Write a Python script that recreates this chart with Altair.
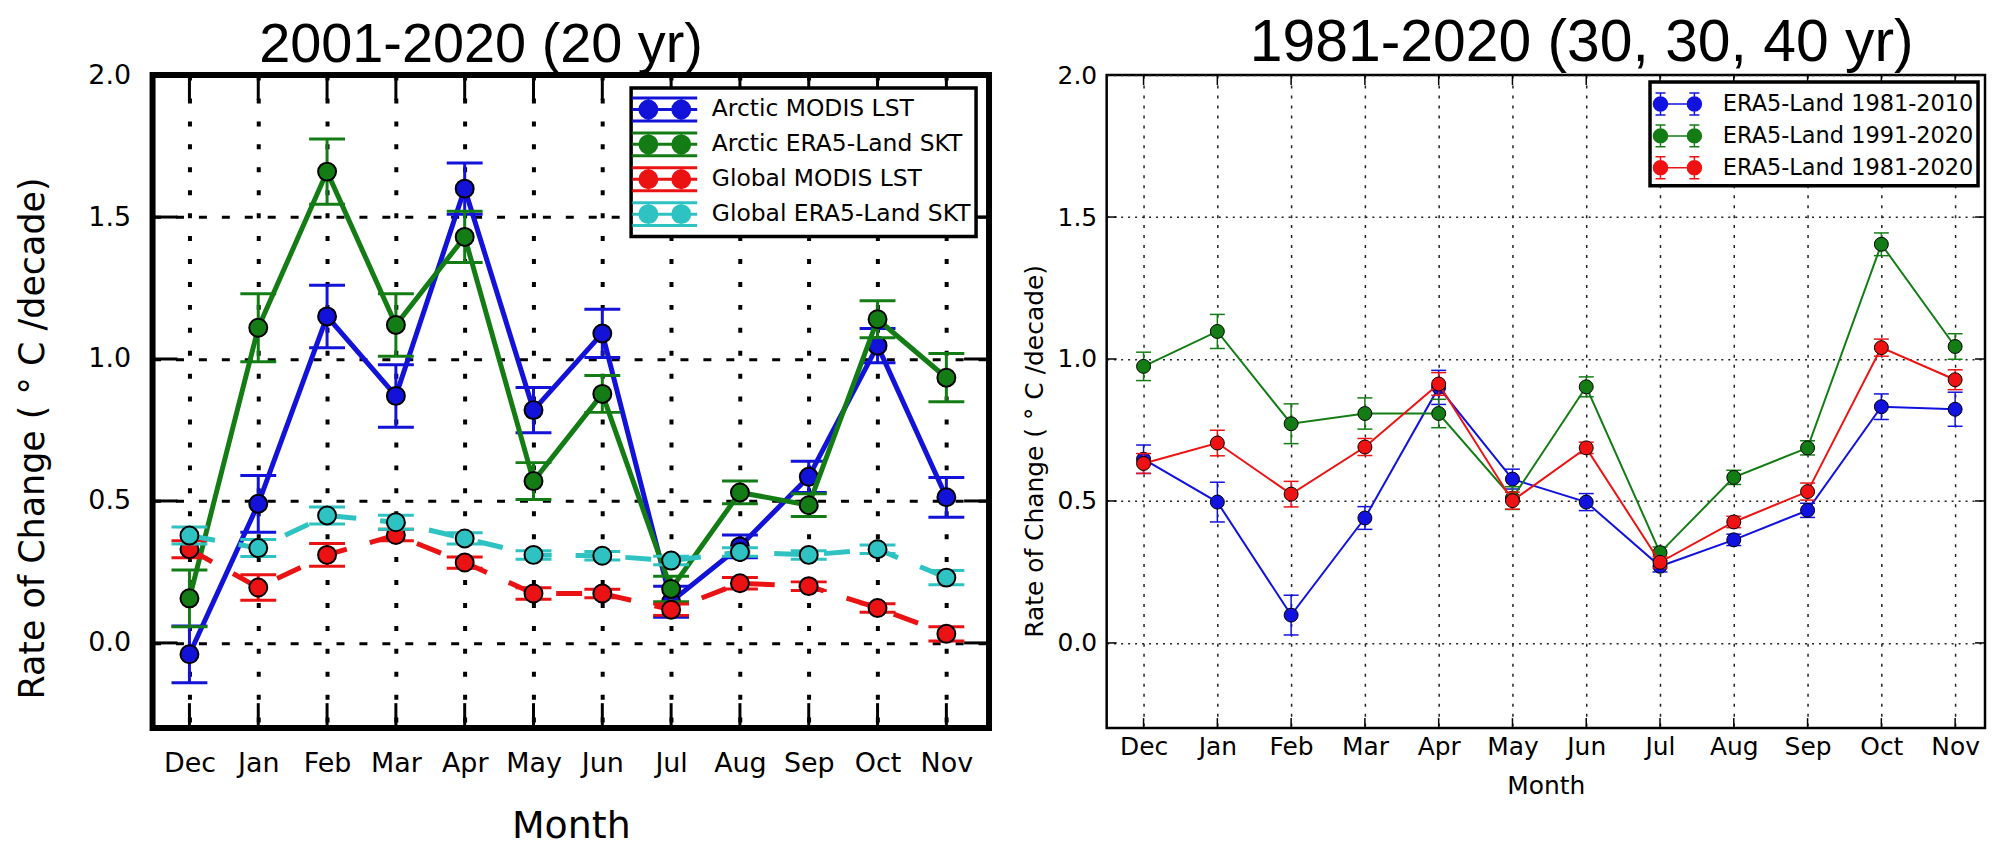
import altair as alt
import pandas as pd

MONTHS = ["Dec", "Jan", "Feb", "Mar", "Apr", "May", "Jun", "Jul", "Aug", "Sep", "Oct", "Nov"]
Y_LABEL_VALUES = [0.0, 0.5, 1.0, 1.5, 2.0]
Y_INNER_TICKS = [0.0, 0.5, 1.0, 1.5]
Y_TITLE = "Rate of Change ( \u00b0 C /decade)"

# ---- left panel: 2001-2020 ----
L_NAMES = ["Arctic MODIS LST", "Arctic ERA5-Land SKT", "Global MODIS LST", "Global ERA5-Land SKT"]
L_COLORS = ["#1212d8", "#147c14", "#ea1212", "#2ec2c2"]
arctic_modis = [-0.04, 0.49, 1.15, 0.87, 1.60, 0.82, 1.09, 0.145, 0.34, 0.585, 1.047, 0.513]
arctic_modis_err = [0.10, 0.10, 0.11, 0.11, 0.09, 0.08, 0.085, 0.055, 0.04, 0.055, 0.06, 0.07]
arctic_era5 = [0.157, 1.11, 1.66, 1.12, 1.43, 0.57, 0.877, 0.19, 0.53, 0.485, 1.14, 0.934]
arctic_era5_err = [0.10, 0.12, 0.115, 0.11, 0.09, 0.065, 0.065, 0.045, 0.04, 0.04, 0.065, 0.085]
global_modis = [0.33, 0.195, 0.31, 0.38, 0.283, 0.174, 0.174, 0.117, 0.21, 0.20, 0.123, 0.032]
global_modis_err = [0.03, 0.045, 0.04, 0.02, 0.02, 0.02, 0.015, 0.02, 0.02, 0.015, 0.015, 0.025]
global_era5 = [0.378, 0.334, 0.449, 0.425, 0.368, 0.31, 0.307, 0.29, 0.32, 0.31, 0.33, 0.23]
global_era5_err = [0.03, 0.03, 0.03, 0.025, 0.02, 0.015, 0.015, 0.015, 0.015, 0.015, 0.015, 0.025]

# ---- right panel: 1981-2020 ----
R_NAMES = ["ERA5-Land 1981-2010", "ERA5-Land 1991-2020", "ERA5-Land 1981-2020"]
R_COLORS = ["#1212e0", "#147c14", "#ee1212"]
era5_8110 = [0.647, 0.496, 0.098, 0.44, 0.90, 0.577, 0.496, 0.27, 0.363, 0.467, 0.832, 0.823]
era5_8110_err = [0.05, 0.07, 0.07, 0.04, 0.06, 0.035, 0.03, 0.02, 0.02, 0.025, 0.045, 0.06]
era5_9120 = [0.974, 1.097, 0.772, 0.808, 0.808, 0.51, 0.902, 0.318, 0.583, 0.687, 1.404, 1.044]
era5_9120_err = [0.05, 0.06, 0.07, 0.055, 0.05, 0.04, 0.035, 0.02, 0.025, 0.025, 0.04, 0.045]
era5_8120 = [0.632, 0.704, 0.524, 0.69, 0.912, 0.501, 0.687, 0.284, 0.426, 0.533, 1.04, 0.927]
era5_8120_err = [0.035, 0.045, 0.045, 0.03, 0.04, 0.03, 0.02, 0.02, 0.02, 0.03, 0.03, 0.035]

FONT = "DejaVu Sans"
TITLE_FONT = "Liberation Sans"
LABEL_EXPR = "[" + ",".join("'%s'" % m for m in MONTHS) + "][datum.value]"


def build_frame(names, vals_list, errs_list):
    rows = []
    for name, vals, errs in zip(names, vals_list, errs_list):
        for i, (m, v, e) in enumerate(zip(MONTHS, vals, errs)):
            rows.append({"series": name, "month": m, "idx": i, "val": v, "lo": v - e, "hi": v + e})
    return pd.DataFrame(rows)


left_df = build_frame(L_NAMES, [arctic_modis, arctic_era5, global_modis, global_era5],
                      [arctic_modis_err, arctic_era5_err, global_modis_err, global_era5_err])
right_df = build_frame(R_NAMES, [era5_8110, era5_9120, era5_8120],
                       [era5_8110_err, era5_9120_err, era5_8120_err])
month_df = pd.DataFrame({"idx": list(range(len(MONTHS))), "month": MONTHS})
ytick_df = pd.DataFrame({"v": Y_INNER_TICKS})

# legend symbols (path scaled by sqrt(size)/2): errorbar-style handles
LEFT_SYMBOL = ("M-2.211,0L2.211,0M-2.211,-0.782L2.211,-0.782M-2.211,0.782L2.211,0.782"
               "M0.544,0A0.578,0.578 0 1,0 1.7,0A0.578,0.578 0 1,0 0.544,0Z"
               "M-1.7,0A0.578,0.578 0 1,0 -0.544,0A0.578,0.578 0 1,0 -1.7,0Z")
RIGHT_SYMBOL = ("M-1.441,0L1.441,0"
                "M-1,-0.647L-1,0.647M-1.294,-0.647L-0.706,-0.647M-1.294,0.647L-0.706,0.647"
                "M1,-0.647L1,0.647M0.706,-0.647L1.294,-0.647M0.706,0.647L1.294,0.647"
                "M-1.412,0A0.412,0.412 0 1,0 -0.588,0A0.412,0.412 0 1,0 -1.412,0Z"
                "M0.588,0A0.412,0.412 0 1,0 1.412,0A0.412,0.412 0 1,0 0.588,0Z")


def panel(df, names, colors, dashed, st, title_text, title_dx, title_size):
    W, H = st["w"], st["h"]
    xs = alt.Scale(domain=st["xdom"], nice=False, zero=False)
    ys = alt.Scale(domain=[-0.3, 2.0], nice=False, zero=False)
    xaxis = alt.Axis(values=list(range(12)), labelExpr=LABEL_EXPR, grid=True,
                     gridDash=st["xgd"], gridWidth=st["xgw"], gridColor=st["gc"], gridOpacity=1,
                     domain=False, ticks=False, tickSize=0, labelFlush=False,
                     labelFont=FONT, labelFontSize=st["lfs"], labelColor="black",
                     labelPadding=st["xlp"], title="Month", titleFont=FONT,
                     titleFontSize=st["xtfs"], titleFontWeight="normal", titleColor="black",
                     titlePadding=st["xtp"])
    yaxis = alt.Axis(values=Y_LABEL_VALUES, format=".1f", grid=True,
                     gridDash=st["ygd"], gridWidth=st["ygw"], gridColor=st["gc"], gridOpacity=1,
                     domain=False, ticks=False, tickSize=0, labelFlush=False,
                     labelFont=FONT, labelFontSize=st["lfs"], labelColor="black",
                     labelPadding=st["ylp"], title=Y_TITLE, titleFont=FONT,
                     titleFontSize=st["ytfs"], titleFontWeight="normal", titleColor="black",
                     titlePadding=st["ytp"], titleY=st["yty"])

    def X(f):
        return alt.X(f, scale=xs, axis=xaxis)

    def Y(f):
        return alt.Y(f, scale=ys, axis=yaxis)

    layers = []
    tk = alt.Chart(month_df)
    yt = alt.Chart(ytick_df)
    tl, tw = st["tl"], st["tw"]
    layers.append(tk.mark_rule(color="black", strokeWidth=tw).encode(
        x=X("idx:Q"), y=alt.value(0), y2=alt.value(tl)))
    layers.append(tk.mark_rule(color="black", strokeWidth=tw).encode(
        x=X("idx:Q"), y=alt.value(H), y2=alt.value(H - tl)))
    layers.append(yt.mark_rule(color="black", strokeWidth=tw).encode(
        y=Y("v:Q"), x=alt.value(0), x2=alt.value(tl)))
    layers.append(yt.mark_rule(color="black", strokeWidth=tw).encode(
        y=Y("v:Q"), x=alt.value(W), x2=alt.value(W - tl)))

    for name, col, dsh in zip(names, colors, dashed):
        base = alt.Chart(df[df["series"] == name])
        layers.append(base.mark_rule(color=col, strokeWidth=st["ew"]).encode(
            x=X("idx:Q"), y=Y("lo:Q"), y2="hi:Q"))
        for f in ("lo:Q", "hi:Q"):
            layers.append(base.mark_tick(color=col, orient="horizontal", size=st["capw"],
                                         thickness=st["capt"], opacity=1).encode(
                x=X("idx:Q"), y=Y(f)))
        line_kw = dict(color=col, strokeWidth=st["lw"])
        if dsh:
            line_kw["strokeDash"] = st["dash"]
        layers.append(base.mark_line(**line_kw).encode(x=X("idx:Q"), y=Y("val:Q")))
        layers.append(base.mark_circle(color=col, size=st["ms"], stroke="black",
                                       strokeWidth=st["mstroke"], opacity=1).encode(
            x=X("idx:Q"), y=Y("val:Q")))

    leg = alt.Legend(title=None, orient="top-right", offset=st["lgoff"], padding=st["lgpad"],
                     fillColor="white", strokeColor="black", symbolType=st["sym"],
                     symbolSize=st["symsize"], symbolStrokeWidth=st["symsw"],
                     symbolFillColor="black", symbolStrokeColor="black", symbolOpacity=1,
                     labelFont=FONT, labelFontSize=st["lgfs"], labelColor="black",
                     labelLimit=600, labelOffset=st["lgloff"], rowPadding=st["lgrow"],
                     symbolOffset=st["lgso"])
    cscale = alt.Scale(domain=names, range=colors)
    layers.append(alt.Chart(df).transform_filter("false").mark_point(filled=True).encode(
        x=X("idx:Q"), y=Y("val:Q"),
        fill=alt.Fill("series:N", scale=cscale, legend=leg),
        stroke=alt.Stroke("series:N", scale=cscale, legend=leg)))

    return alt.layer(*layers).properties(
        width=W, height=H,
        title=alt.TitleParams(title_text, font=TITLE_FONT, fontSize=title_size,
                              fontWeight="normal", color="black", anchor="middle",
                              dx=title_dx, offset=-57, baseline="alphabetic"),
        view=alt.ViewBackground(stroke="black", strokeWidth=st["fw"], fill="white"))


LEFT_ST = dict(w=839, h=655, xdom=[-0.536, 11.62], xgd=[5, 18], xgw=4, ygd=[8, 15], ygw=3,
               gc="black", lfs=27, xlp=23, xtfs=38, xtp=31, ylp=22, ytfs=35, ytp=37, yty=364,
               tw=3, tl=25, fw=6, lw=5, ms=324, mstroke=2, ew=3, capw=36, capt=3,
               dash=[26, 24], sym=LEFT_SYMBOL, symsize=864, symsw=3, lgfs=23.5, lgloff=30.6,
               lgso=12.3, lgrow=0, lgoff=13, lgpad=5)
RIGHT_ST = dict(w=881, h=655, xdom=[-0.5, 11.405], xgd=[3, 7], xgw=1.5, ygd=[2, 5], ygw=1.5,
                gc="#222222", lfs=25, xlp=6.5, xtfs=25, xtp=14, ylp=10, ytfs=25, ytp=10,
                yty=377, tw=1.5, tl=10, fw=2.5, lw=2, ms=196, mstroke=1, ew=1.5, capw=15,
                capt=1.5, dash=[1, 0], sym=RIGHT_SYMBOL, symsize=1156, symsw=1.5, lgfs=22.5,
                lgloff=27.5, lgso=5.5, lgrow=0, lgoff=7, lgpad=4)

left = panel(left_df, L_NAMES, L_COLORS, [False, False, True, True], LEFT_ST,
             "2001-2020 (20 yr)", -90, 56)
right = panel(right_df, R_NAMES, R_COLORS, [False, False, False], RIGHT_ST,
              "1981-2020 (30, 30, 40 yr)", 36, 59)

chart = alt.hconcat(left, right, spacing=118, bounds="flush").resolve_scale(
    fill="independent", stroke="independent").resolve_legend(
    fill="independent", stroke="independent").properties(
    padding={"left": 5, "top": 3, "right": 0, "bottom": 0}, background="white"
).configure_legend(strokeWidth=3.5)

chart.save("out.html", embed_options={"renderer": "svg", "actions": False})
